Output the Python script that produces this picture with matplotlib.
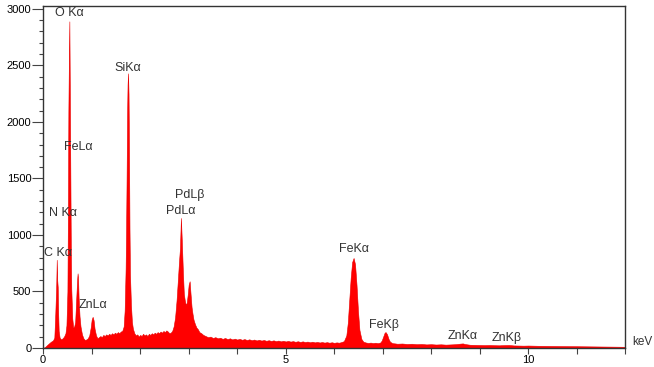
import matplotlib
matplotlib.use('Agg')
import matplotlib.pyplot as plt
from matplotlib.ticker import MultipleLocator, FixedLocator

# EDS spectrum: energy (keV) and counts
energy_kev = [
    0.00, 0.04, 0.08, 0.12, 0.16, 0.20, 0.23, 0.25, 0.27, 0.28, 0.29, 0.30, 0.31, 0.32, 0.34, 0.37,
    0.40, 0.43, 0.46, 0.48, 0.50, 0.51, 0.52, 0.53, 0.54, 0.55, 0.56, 0.57, 0.58, 0.60, 0.62, 0.64,
    0.66, 0.68, 0.70, 0.71, 0.72, 0.73, 0.75, 0.77, 0.80, 0.83, 0.86, 0.89, 0.92, 0.95, 0.98, 1.00,
    1.02, 1.04, 1.06, 1.09, 1.12, 1.15, 1.18, 1.21, 1.24, 1.27, 1.30, 1.33, 1.36, 1.39, 1.42, 1.45,
    1.48, 1.51, 1.54, 1.57, 1.60, 1.63, 1.66, 1.68, 1.70, 1.71, 1.72, 1.73, 1.74, 1.75, 1.76, 1.77,
    1.78, 1.79, 1.81, 1.83, 1.85, 1.88, 1.91, 1.94, 1.97, 2.00, 2.03, 2.06, 2.09, 2.12, 2.15, 2.18,
    2.21, 2.24, 2.27, 2.30, 2.33, 2.36, 2.39, 2.42, 2.45, 2.48, 2.51, 2.54, 2.57, 2.60, 2.63, 2.66,
    2.69, 2.72, 2.75, 2.78, 2.80, 2.82, 2.84, 2.86, 2.88, 2.90, 2.92, 2.94, 2.96, 2.98, 3.00, 3.02,
    3.04, 3.06, 3.08, 3.10, 3.13, 3.16, 3.19, 3.22, 3.26, 3.30, 3.35, 3.40, 3.45, 3.50, 3.55, 3.60,
    3.65, 3.70, 3.75, 3.80, 3.85, 3.90, 3.95, 4.00, 4.05, 4.10, 4.15, 4.20, 4.25, 4.30, 4.35, 4.40,
    4.45, 4.50, 4.55, 4.60, 4.65, 4.70, 4.75, 4.80, 4.85, 4.90, 4.95, 5.00, 5.05, 5.10, 5.15, 5.20,
    5.25, 5.30, 5.35, 5.40, 5.45, 5.50, 5.55, 5.60, 5.65, 5.70, 5.75, 5.80, 5.85, 5.90, 5.95, 6.00,
    6.05, 6.10, 6.15, 6.20, 6.25, 6.28, 6.31, 6.34, 6.37, 6.40, 6.43, 6.46, 6.49, 6.52, 6.56, 6.60,
    6.65, 6.70, 6.75, 6.80, 6.85, 6.90, 6.95, 6.98, 7.01, 7.04, 7.06, 7.09, 7.12, 7.15, 7.20, 7.25,
    7.30, 7.40, 7.50, 7.60, 7.70, 7.80, 7.90, 8.00, 8.10, 8.20, 8.30, 8.40, 8.50, 8.60, 8.65, 8.70,
    8.80, 8.90, 9.00, 9.10, 9.20, 9.30, 9.40, 9.50, 9.60, 9.70, 9.80, 9.90, 10.00, 10.20, 10.40, 10.60,
    10.80, 11.00, 11.20, 11.40, 11.60, 11.80, 12.00,
]
counts = [
    0, 8, 25, 40, 55, 65, 90, 300, 560, 780, 600, 540, 300, 150, 90, 75,
    85, 100, 130, 200, 500, 1200, 2100, 2550, 2890, 2250, 1570, 900, 520, 260, 180, 190,
    230, 420, 600, 660, 610, 450, 280, 190, 120, 85, 70, 75, 85, 110, 180, 250,
    275, 245, 170, 110, 85, 95, 105, 95, 115, 105, 120, 110, 125, 115, 130, 120,
    135, 125, 140, 130, 145, 150, 190, 330, 700, 1050, 1500, 2050, 2330, 2430, 2250, 1750,
    1050, 650, 380, 230, 170, 130, 110, 120, 100, 115, 105, 125, 110, 120, 105, 125,
    115, 130, 120, 135, 125, 140, 130, 145, 135, 150, 140, 155, 145, 130, 135, 150,
    190, 270, 420, 620, 760, 880, 1150, 930, 680, 480, 420, 380, 400, 470, 560, 590,
    470, 360, 300, 250, 210, 180, 165, 140, 130, 115, 105, 95, 100, 88, 95, 85,
    90, 80, 88, 78, 85, 75, 82, 74, 80, 72, 78, 70, 76, 68, 74, 66,
    72, 65, 70, 63, 68, 62, 67, 60, 65, 58, 63, 57, 62, 56, 60, 54,
    59, 53, 58, 52, 56, 50, 55, 49, 53, 48, 52, 47, 51, 46, 50, 45,
    49, 46, 52, 60, 110, 220, 420, 620, 760, 796, 740, 560, 330, 160, 80, 55,
    48, 44, 47, 43, 46, 42, 48, 65, 100, 135, 140, 120, 80, 55, 42, 40,
    37, 39, 35, 37, 33, 35, 31, 33, 30, 32, 29, 31, 33, 38, 40, 34,
    28, 27, 26, 25, 26, 24, 23, 25, 26, 22, 21, 20, 21, 19, 18, 17,
    16, 15, 14, 13, 12, 11, 10,
]

# peak labels and where they sit
peak_names = ['O K\u03b1', 'FeL\u03b1', 'SiK\u03b1', 'N K\u03b1', 'C K\u03b1', 'ZnL\u03b1',
              'PdL\u03b2', 'PdL\u03b1', 'FeK\u03b1', 'FeK\u03b2', 'ZnK\u03b1', 'ZnK\u03b2']
label_x = [0.55, 0.72, 1.74, 0.41, 0.31, 1.03, 3.02, 2.84, 6.40, 7.03, 8.64, 9.55]
label_y = [2960, 1775, 2480, 1190, 840, 380, 1350, 1210, 875, 205, 105, 88]

plt.rcParams['font.family'] = ['Liberation Sans', 'DejaVu Sans']

fig = plt.figure(figsize=(6.54, 3.67), dpi=100)
ax = fig.add_axes([0.066, 0.052, 0.890, 0.933])

ax.fill_between(energy_kev, counts, 0, color='#ff0000', linewidth=0.4, edgecolor='#e80000')

for name, x, y in zip(peak_names, label_x, label_y):
    ax.text(x, y, name, ha='center', va='center', fontsize=9, color='#333333')

ax.text(12.15, 50, 'keV', ha='left', va='center', fontsize=8.5, color='#333333', clip_on=False)

ax.set_xlim(0, 12)
ax.set_ylim(0, 3030)

ax.xaxis.set_major_locator(FixedLocator([0, 5, 10]))
ax.xaxis.set_minor_locator(MultipleLocator(1))
ax.yaxis.set_major_locator(MultipleLocator(500))
ax.yaxis.set_minor_locator(MultipleLocator(100))

ax.tick_params(axis='x', which='both', direction='out', length=4, width=0.8, labelsize=8, pad=1, color='#444444')
ax.tick_params(axis='y', which='major', direction='out', length=8, width=0.8, labelsize=8, pad=0.5, color='#444444')
ax.tick_params(axis='y', which='minor', direction='out', length=3, width=0.8, color='#444444')

for sp in ax.spines.values():
    sp.set_color('#333333')
    sp.set_linewidth(1.0)

fig.savefig('out.png', dpi=100)
